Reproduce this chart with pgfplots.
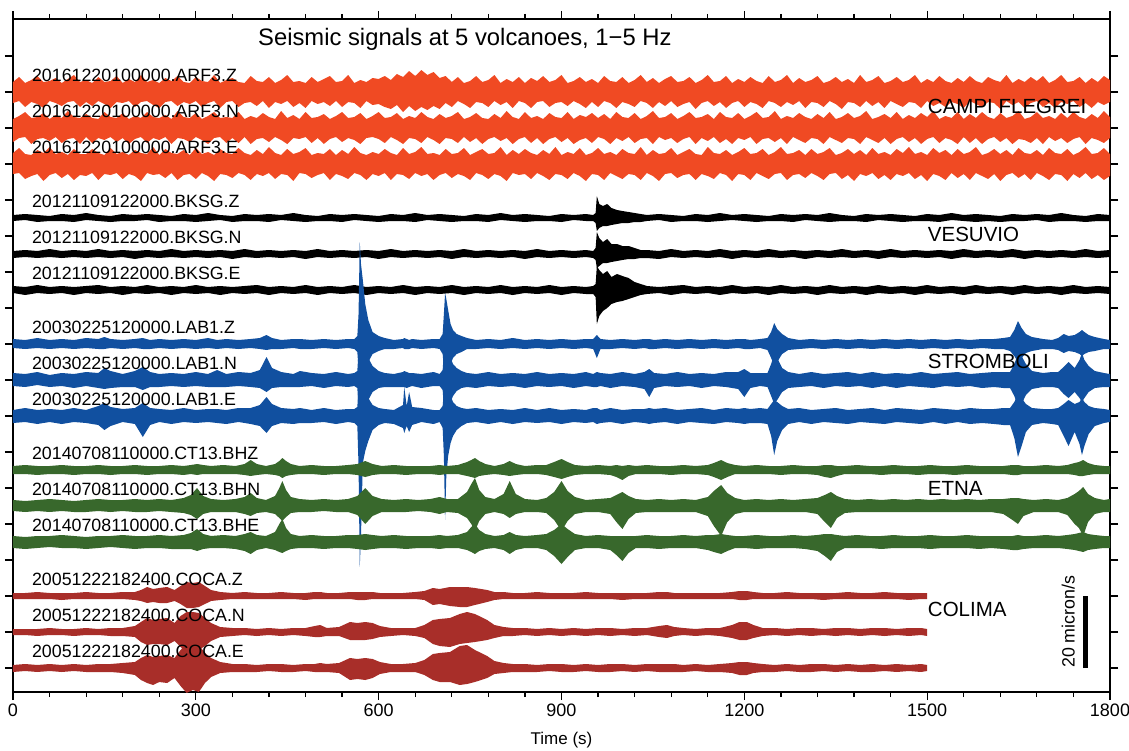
\documentclass[border=0pt]{standalone}
\usepackage{pgfplots}
\pgfplotsset{compat=1.18}
\usepackage{pgfplotstable}
\usepgfplotslibrary{fillbetween}
\usepackage{fontspec}
\setmainfont{Liberation Sans}

\definecolor{cfcol}{RGB}{240,74,35}
\definecolor{stcol}{RGB}{17,80,160}
\definecolor{etcol}{RGB}{56,104,44}
\definecolor{cocol}{RGB}{168,46,41}

% envelopes of the traces, in pixels above (u) and below (l) each baseline
\pgfplotstableread{
t zu zl nu nl eu el
0 10 11 9 14 11 10
10 15 9 12 10 16 9
20 9 15 16 9 10 15
30 12 10 10 16 9 12
40 16 12 11 11 14 10
50 10 16 15 10 11 17
60 11 9 9 13 17 11
70 14 11 13 9 10 9
80 9 14 10 15 12 14
90 13 10 17 11 9 10
100 17 9 11 10 15 16
110 10 15 10 16 10 11
120 12 10 14 9 10 12
130 9 14 10 15 15 9
140 15 9 9 10 11 16
150 10 12 16 12 9 10
160 11 16 11 9 16 11
170 16 10 10 14 10 9
180 9 11 15 10 12 15
190 13 9 9 16 9 10
200 10 15 12 11 14 12
210 17 10 10 9 11 17
220 10 9 16 15 10 9
230 12 13 11 10 17 11
240 9 16 10 12 9 10
250 14 10 13 9 15 14
260 11 9 9 16 11 9
270 16 14 17 10 10 16
280 10 10 11 11 14 11
290 9 12 10 14 9 10
300 15 9 15 9 16 15
310 11 15 9 12 10 9
320 10 11 12 16 12 12
330 17 9 16 10 9 17
340 9 16 10 9 15 10
350 12 10 11 15 11 11
360 14 9 10 10 10 14
370 10 15 16 15 16 9
380 9 11 9 9 11 11
390 16 10 12 16 9 16
400 11 14 10 11 14 10
410 10 9 15 10 10 12
420 15 16 11 14 17 9
430 9 10 9 9 11 15
440 12 12 17 12 9 10
450 17 9 10 16 15 11
460 10 15 13 10 10 17
470 11 11 9 11 12 9
480 9 16 16 9 16 10
490 15 9 10 15 9 14
500 10 12 11 10 11 11
510 13 10 14 16 10 9
520 16 14 9 11 15 16
530 10 9 12 9 9 10
540 11 15 16 14 14 12
550 17 10 10 10 10 15
560 9 11 11 12 17 9
570 12 16 15 16 11 11
580 10 9 9 10 9 16
590 14 13 12 9 12 10
600 13 12 16 11 10 12
610 16 15 10 15 15 9
620 12 17 11 9 11 16
630 18 13 15 12 9 10
640 15 20 9 16 16 11
650 21 14 12 10 10 15
660 16 19 10 11 12 9
670 22 15 16 15 17 12
680 17 18 11 9 10 10
690 20 14 9 12 11 16
700 14 17 14 16 9 11
710 16 11 10 10 15 9
720 10 15 12 11 10 14
730 15 9 16 15 11 10
740 9 12 9 9 16 12
750 11 16 11 14 9 16
760 16 10 15 10 12 9
770 10 11 10 16 15 11
780 12 15 9 11 10 15
790 17 9 14 9 11 10
800 9 13 10 13 17 12
810 13 10 17 10 9 17
820 10 16 11 16 14 9
830 15 9 9 11 10 11
840 9 11 16 9 15 10
850 14 16 10 15 11 15
860 11 10 12 10 9 9
870 16 9 9 16 14 12
880 10 15 15 11 10 16
890 12 11 11 9 17 10
900 17 10 10 14 9 11
910 9 14 16 10 12 15
920 11 9 9 16 10 9
930 15 12 13 12 16 12
940 10 16 11 10 9 17
950 13 10 15 15 11 10
960 9 15 10 9 16 11
970 16 9 14 11 10 16
980 11 11 9 16 12 9
990 10 16 16 10 9 12
1000 15 10 11 13 15 15
1010 9 12 10 9 11 10
1020 12 15 15 15 10 11
1030 17 9 9 11 17 16
1040 10 11 12 10 9 9
1050 14 16 17 16 14 12
1060 9 10 10 9 10 17
1070 13 14 11 12 11 10
1080 16 9 15 10 16 9
1090 10 15 9 15 9 14
1100 11 12 12 11 12 11
1110 15 10 16 9 15 10
1120 9 17 10 16 10 16
1130 12 11 11 10 9 10
1140 17 9 14 13 17 12
1150 10 14 9 9 11 15
1160 11 10 16 15 10 9
1170 16 16 11 11 14 11
1180 9 11 10 16 9 17
1190 13 9 15 10 12 10
1200 10 15 9 12 16 11
1210 15 10 12 9 10 16
1220 11 12 16 16 11 9
1230 9 16 10 11 15 12
1240 16 9 11 10 9 15
1250 10 11 17 14 12 10
1260 12 15 9 10 17 9
1270 17 10 12 16 10 16
1280 9 13 10 9 11 11
1290 14 9 15 12 14 10
1300 10 16 11 15 9 14
1310 12 10 9 10 15 9
1320 16 11 14 11 10 12
1330 9 15 10 16 12 16
1340 11 9 16 9 16 10
1350 15 12 9 12 9 9
1360 10 17 11 15 11 15
1370 13 10 15 10 15 11
1380 9 11 10 11 10 17
1390 17 15 12 16 14 10
1400 10 9 17 9 9 12
1410 12 14 9 12 16 9
1420 16 10 11 15 10 15
1430 9 16 14 10 12 11
1440 11 9 10 16 9 16
1450 15 12 16 11 15 10
1460 10 15 9 9 11 12
1470 12 10 13 14 17 9
1480 17 11 10 10 10 15
1490 9 16 15 16 12 11
1500 13 9 11 11 9 17
1510 10 14 17 9 16 10
1520 16 11 9 15 11 12
1530 11 15 12 10 14 16
1540 9 10 10 12 9 9
1550 14 12 16 16 15 14
1560 10 16 9 9 10 10
1570 16 9 14 15 12 16
1580 11 12 10 10 17 9
1590 9 15 16 16 9 12
1600 15 10 11 11 11 15
1610 12 11 9 9 15 10
1620 10 17 15 14 10 17
1630 17 9 10 10 14 11
1640 9 13 12 16 9 9
1650 13 10 17 11 16 14
1660 10 16 9 12 11 10
1670 15 11 11 15 10 16
1680 11 9 16 10 14 9
1690 16 15 10 16 9 12
1700 9 11 12 9 16 16
1710 12 16 9 13 11 10
1720 17 10 15 10 10 11
1730 10 12 10 15 15 17
1740 11 9 16 11 9 10
1750 15 15 11 9 12 14
1760 9 11 9 16 17 9
1770 14 16 14 10 10 15
1780 10 10 10 12 11 11
1790 16 13 17 15 16 16
1800 12 10 11 10 10 12
}\tabCF

\pgfplotstableread{
t zu zl nu nl eu el
0 3 3 3 4 4 3
20 4 2 4 3 3 5
40 3 4 3 4 5 3
60 2 3 5 3 3 4
80 4 3 3 4 4 3
100 3 4 4 3 3 5
120 5 2 3 4 4 3
140 3 3 5 3 5 4
160 2 4 3 4 3 3
180 4 3 4 3 4 5
200 3 3 3 5 3 3
220 4 2 4 3 5 4
240 3 4 3 4 3 3
260 2 3 5 3 4 5
280 4 3 3 4 3 3
300 3 4 4 3 5 4
320 5 3 3 4 3 3
340 3 2 4 3 4 5
360 2 4 3 5 3 3
380 4 3 5 3 4 4
400 3 3 3 4 5 3
420 4 4 4 3 3 5
440 3 2 3 4 4 3
460 5 3 4 3 3 4
480 3 4 3 5 5 3
500 2 3 5 3 3 5
520 4 3 3 4 4 3
540 3 4 4 3 3 4
560 4 2 3 4 5 3
580 3 3 4 3 3 5
600 2 4 3 5 4 3
620 4 3 5 3 3 4
640 3 3 3 4 5 3
660 5 4 4 3 3 5
680 3 2 3 4 4 3
700 4 3 4 3 3 4
720 3 4 3 5 5 3
740 2 3 5 3 3 5
760 4 3 3 4 4 3
780 3 4 4 3 3 4
800 5 2 3 4 5 3
820 3 3 4 3 3 5
840 4 4 3 5 4 3
860 3 3 5 3 3 4
880 2 3 3 4 5 3
900 4 4 4 3 3 5
920 3 2 3 4 4 3
940 4 3 4 3 3 4
952 3 3 3 4 4 4
956 5 5 6 6 6 7
958 22 13 22 14 24 34
962 14 10 16 12 20 26
968 12 8 12 9 16 21
975 14 8 15 9 19 18
982 10 7 10 8 13 14
991 8 6 10 7 16 12
1000 7 5 8 6 14 11
1010 6 5 8 5 12 9
1020 5 4 6 5 8 7
1030 4 4 4 4 6 5
1040 3 3 4 4 4 4
1060 4 2 3 5 3 3
1080 3 4 5 3 4 5
1100 2 3 3 4 5 3
1120 4 3 4 3 3 4
1140 3 4 3 4 4 3
1160 5 3 5 3 3 5
1180 3 2 3 5 5 3
1200 4 3 4 3 3 4
1220 3 4 3 4 4 3
1240 2 3 5 3 3 5
1260 4 3 3 4 5 3
1280 3 4 4 3 3 4
1300 4 2 3 5 4 3
1320 3 3 4 3 3 5
1340 5 4 3 4 5 3
1360 3 3 5 3 3 4
1380 2 3 3 4 4 3
1400 4 4 4 3 3 5
1420 3 2 3 5 5 3
1440 4 3 5 3 3 4
1460 3 4 3 4 4 3
1480 2 3 4 3 3 5
1500 4 3 3 4 5 3
1520 3 4 4 3 3 4
1540 5 2 3 5 4 3
1560 3 3 5 3 3 5
1580 4 4 3 4 5 3
1600 3 3 4 3 3 4
1620 2 4 3 4 4 3
1640 4 3 5 3 3 5
1660 3 3 3 5 5 3
1680 4 2 4 3 3 4
1700 3 4 3 4 4 3
1720 5 3 4 3 3 5
1740 3 3 3 4 5 3
1760 2 4 5 3 3 4
1780 4 3 3 4 4 3
1800 3 3 4 3 3 4
}\tabVE

\pgfplotstableread{
t zu zl nu nl eu el
0 5 4 7 6 6 7
20 4 5 6 7 8 6
40 6 4 8 5 6 8
60 4 5 5 7 7 6
80 5 4 7 6 6 8
100 4 5 6 8 8 6
120 6 4 8 6 6 7
140 5 5 7 8 10 9
150 7 5 12 9 13 14
160 5 4 9 8 9 10
180 4 5 6 7 7 6
200 5 4 9 7 8 8
213 6 5 13 10 13 21
225 4 5 8 7 8 9
240 5 4 6 7 7 6
260 4 5 7 6 6 8
280 5 4 6 7 8 6
300 4 5 8 6 6 7
320 6 4 6 7 7 6
335 4 5 10 7 7 7
350 5 4 6 7 6 8
370 4 5 8 6 8 6
390 5 4 7 7 8 8
405 6 5 10 8 11 10
416 9 6 23 12 19 17
425 6 5 12 8 12 10
440 4 5 8 7 8 7
460 5 4 6 7 7 8
471 5 5 9 7 8 7
490 4 5 7 6 6 7
510 5 4 6 8 8 6
530 4 5 8 6 6 8
550 5 4 6 7 7 6
560 5 5 7 6 7 7
565 8 8 9 8 9 10
567 30 25 30 30 30 50
569 102 36 36 36 36 151
571 80 36 36 36 36 120
574 64 30 34 34 32 47
578 40 24 30 28 25 35
583 24 18 22 20 18 25
590 12 10 14 12 11 14
600 8 7 9 8 8 9
610 6 5 7 7 7 7
625 4 5 6 7 6 8
640 5 4 8 7 11 12
642 6 5 9 7 29 17
646 5 5 8 8 10 10
650 4 5 7 7 24 16
655 5 4 7 6 9 9
670 4 5 6 8 8 6
690 5 4 8 6 6 8
700 5 5 6 6 6 6
705 10 10 10 10 10 12
707 30 25 28 28 25 40
709 51 34 34 34 34 104
711 45 34 34 34 34 60
714 34 30 30 30 28 40
718 20 20 22 22 20 27
722 14 14 16 16 14 20
728 10 10 12 11 10 14
736 8 8 9 8 8 10
745 6 5 7 7 7 7
760 4 5 6 8 8 6
780 5 4 8 6 6 8
800 4 5 6 7 7 6
820 6 4 7 6 6 8
840 4 5 6 8 8 6
860 5 4 8 6 6 7
880 4 5 6 7 8 6
900 5 4 7 6 6 8
920 4 5 6 8 7 6
940 5 4 8 6 6 7
952 5 5 6 7 8 6
958 9 14 8 7 8 8
964 5 5 7 6 6 7
980 4 5 6 8 8 6
1000 5 4 8 6 6 8
1020 4 5 6 7 7 6
1036 5 4 8 9 7 7
1044 5 5 11 17 8 8
1052 4 5 7 8 7 7
1070 5 4 6 6 8 6
1090 4 5 8 7 6 8
1110 5 4 6 6 7 6
1130 4 5 7 8 8 7
1150 5 4 6 6 6 8
1170 4 5 8 7 8 6
1190 5 4 8 9 7 7
1200 5 5 11 17 8 8
1210 4 5 7 8 7 7
1226 5 4 7 6 8 7
1238 6 6 7 7 7 8
1244 12 14 16 16 12 20
1249 21 22 26 24 16 39
1254 15 18 22 20 14 25
1262 10 10 12 12 10 14
1272 6 6 8 8 7 8
1290 4 5 6 7 8 6
1310 5 4 8 6 6 8
1330 4 5 6 8 7 6
1350 5 4 7 6 8 7
1370 4 5 8 7 6 8
1390 5 4 6 6 7 6
1410 4 5 8 8 8 7
1430 5 4 6 6 6 8
1450 4 5 7 8 8 6
1470 5 4 6 6 7 7
1490 4 5 8 7 6 8
1510 5 4 6 8 8 6
1530 4 5 7 6 7 8
1550 5 4 8 7 6 6
1570 4 5 6 6 8 8
1590 5 4 7 8 7 7
1610 5 5 8 7 7 8
1625 6 5 8 8 8 9
1636 7 7 8 8 8 9
1643 14 12 16 16 14 22
1649 23 18 26 26 22 41
1655 16 14 24 24 18 30
1662 10 9 16 15 12 16
1672 7 7 9 9 8 9
1690 5 5 7 7 7 7
1705 4 5 8 7 7 8
1715 6 6 8 8 8 9
1724 10 9 13 14 12 20
1732 8 7 18 18 16 30
1742 9 8 12 12 12 16
1750 12 10 20 18 14 28
1754 14 12 27 22 18 39
1758 12 10 20 18 14 30
1765 9 8 14 12 10 18
1775 7 7 9 8 8 10
1790 5 5 7 7 7 7
1800 4 5 6 7 6 6
}\tabST

\pgfplotstableread{
t zu zl nu nl eu el
0 4 4 6 5 6 6
20 5 4 5 6 5 7
40 4 5 6 5 6 6
60 4 4 7 6 6 5
80 5 4 6 5 7 6
100 4 5 5 6 6 6
120 4 4 6 6 5 7
140 5 4 7 5 6 6
160 4 5 6 6 6 5
180 4 4 6 5 7 6
200 5 4 7 6 6 7
220 4 5 6 6 6 6
240 4 4 7 5 7 6
260 5 4 6 6 6 7
280 4 5 8 7 7 7
292 5 4 11 9 9 7
302 6 5 18 13 13 9
312 5 4 10 8 8 7
325 4 4 7 6 6 6
345 5 4 6 6 7 6
365 4 4 7 6 6 7
380 6 5 9 8 8 9
390 10 6 13 10 10 12
400 6 5 8 7 7 8
415 4 4 6 6 6 6
430 6 5 10 8 10 8
437 9 6 18 12 18 10
442 12 8 25 15 23 11
448 9 6 16 11 14 9
456 6 5 9 7 8 7
470 4 4 7 6 6 6
490 5 4 6 6 7 6
510 4 5 7 5 6 7
530 4 4 6 6 6 6
550 5 4 7 6 7 6
565 6 5 10 9 7 7
578 9 7 18 18 8 8
590 6 5 10 10 7 7
605 4 4 7 6 6 6
625 5 4 6 6 7 6
645 4 5 7 6 6 7
665 4 4 6 5 6 6
685 4 4 7 6 6 6
700 5 5 9 8 7 7
712 4 4 7 6 6 6
730 5 4 7 7 7 6
745 8 6 14 12 10 8
752 10 7 22 18 15 10
758 12 8 28 25 18 12
765 9 6 16 15 12 9
775 6 5 9 8 8 7
790 4 4 7 6 6 6
805 6 5 12 8 7 8
815 9 6 25 12 10 12
825 6 5 12 8 7 8
840 4 4 7 6 6 6
860 5 4 6 6 7 6
875 5 5 8 7 8 8
888 8 7 14 14 12 14
900 11 9 25 25 18 22
910 8 7 15 15 13 15
922 5 5 9 8 8 8
940 4 4 6 6 6 6
960 5 4 7 6 7 6
980 4 5 8 8 6 8
990 5 7 11 16 6 13
1000 4 10 14 23 6 19
1010 5 6 10 13 6 11
1022 4 4 7 7 6 6
1040 5 4 6 6 7 6
1060 4 4 7 6 6 7
1080 4 5 6 6 6 6
1100 5 4 7 6 7 6
1120 4 4 6 6 6 6
1140 5 5 9 10 7 8
1150 7 7 15 20 7 10
1162 10 10 21 30 8 12
1172 7 7 13 16 7 9
1185 5 4 8 8 6 6
1200 4 4 6 6 6 6
1220 5 4 7 6 7 7
1240 4 4 6 6 6 6
1260 4 5 7 6 6 6
1280 5 4 6 6 7 6
1300 4 4 7 6 6 7
1320 4 5 8 8 7 9
1332 5 7 11 16 8 14
1342 5 8 14 22 8 19
1352 4 6 10 12 7 10
1365 4 4 7 7 6 6
1385 5 4 6 6 7 6
1405 4 4 7 6 6 6
1425 4 5 6 6 6 7
1445 5 4 7 6 7 6
1465 4 4 6 6 6 6
1485 4 5 7 6 6 6
1505 5 4 6 6 7 7
1525 4 4 7 6 6 6
1545 4 5 6 6 6 6
1565 5 4 7 6 7 6
1585 4 4 6 6 6 7
1605 4 4 7 6 6 6
1625 4 4 7 8 6 7
1640 5 5 8 14 6 8
1649 5 5 8 18 7 8
1658 4 4 7 10 6 7
1675 4 4 6 6 6 6
1695 5 4 7 6 7 6
1715 4 4 6 6 6 6
1730 5 4 8 9 7 7
1742 7 5 12 18 8 8
1749 8 6 15 22 9 9
1756 10 6 19 30 10 10
1764 7 5 12 16 8 8
1775 5 4 8 8 7 7
1790 4 4 6 6 6 6
1800 4 4 7 6 6 6
}\tabET

\pgfplotstableread{
t zu zl nu nl eu el
0 3 3 3 3 3 4
20 3 3 3 3 4 3
40 4 3 3 4 3 4
60 3 3 4 3 4 3
80 3 4 3 3 3 4
100 3 3 3 4 4 3
120 4 3 4 3 3 4
140 3 3 3 3 4 4
160 3 3 4 4 4 4
180 4 3 4 4 5 5
200 4 4 6 5 6 7
210 6 5 10 10 10 12
220 9 7 14 13 13 15
230 7 6 12 12 11 17
240 8 7 13 12 12 14
253 9 7 14 13 13 15
265 6 5 9 9 10 10
275 10 8 16 15 18 18
285 14 12 20 20 25 25
295 13 12 20 18 22 22
305 14 11 19 18 23 24
315 10 8 14 14 15 15
325 6 5 9 9 10 9
340 4 4 5 5 6 5
360 3 3 4 4 4 4
380 4 3 4 3 4 4
400 3 3 3 4 3 4
420 3 3 4 3 4 3
440 4 3 3 4 4 4
460 3 3 4 3 3 4
480 3 4 4 4 4 3
495 4 3 6 5 4 4
504 4 3 7 5 5 4
515 3 3 4 4 4 4
535 3 3 5 4 5 5
553 4 3 10 8 10 12
565 4 4 9 8 9 11
578 4 4 10 8 10 12
590 4 3 9 7 9 10
602 3 3 6 5 6 6
620 3 3 4 4 4 4
640 3 3 4 3 4 4
660 4 3 4 4 5 4
675 5 4 7 6 8 7
689 8 9 12 12 14 12
700 7 8 13 14 15 14
717 9 10 14 15 16 14
733 9 11 18 12 22 17
745 9 11 20 11 23 16
758 8 9 18 10 18 14
778 6 6 12 8 12 10
790 4 4 7 6 7 6
805 4 3 5 4 5 5
820 3 3 4 4 4 4
840 3 3 4 3 4 4
860 4 3 3 4 3 4
880 3 3 4 3 4 3
900 3 3 3 4 4 4
920 3 3 4 3 3 4
940 4 3 3 4 4 3
960 3 3 4 3 3 4
980 3 3 4 4 4 4
1000 3 4 3 3 4 3
1020 3 3 4 4 3 4
1040 3 3 4 3 4 3
1060 4 3 6 5 4 4
1073 4 3 7 6 4 4
1085 3 3 5 4 4 4
1100 3 3 4 3 3 4
1120 3 3 3 4 4 3
1140 3 3 4 3 3 4
1160 3 3 4 4 4 4
1180 4 3 7 6 5 5
1192 5 4 10 8 6 7
1204 5 4 10 8 6 7
1215 4 3 7 6 5 5
1230 3 3 4 4 4 4
1250 3 3 4 3 3 4
1270 4 3 3 4 4 3
1290 3 3 4 3 3 4
1310 3 3 4 4 4 4
1330 3 4 3 3 4 3
1350 3 3 4 4 3 4
1370 4 3 4 3 4 3
1390 3 3 3 4 3 4
1410 3 3 4 3 4 4
1430 4 3 4 4 3 3
1450 3 3 3 3 4 4
1470 3 4 4 4 3 3
1490 3 3 4 3 4 4
1500 3 3 3 4 3 3
}\tabCO

% one trace: table, baseline, upper column, lower column, colour, name
\newcommand{\trace}[6]{%
  \addplot[draw=none, name path=u#6] table[x=t, y expr={#2+\thisrow{#3}/36}] {#1};
  \addplot[draw=none, name path=l#6] table[x=t, y expr={#2-\thisrow{#4}/36}] {#1};
  \addplot[fill=#5, draw=none] fill between[of=u#6 and l#6];
}

\newcommand{\lbl}{\fontsize{17.8}{20}\selectfont}
\newcommand{\grp}{\fontsize{20.5}{23}\selectfont}

\begin{document}
\begin{tikzpicture}
\begin{axis}[
  at={(0pt,0pt)}, anchor=south west,
  set layers,
  scale only axis, width=1097pt, height=673pt,
  xmin=0, xmax=1800, ymin=-0.6667, ymax=18.028,
  xtick={0,300,...,1800}, minor x tick num=4,
  ytick={0,...,17}, yticklabels={},
  tick align=outside, tick pos=both, xticklabel pos=lower,
  major tick length=8pt, minor tick length=5pt,
  axis line style={line width=2.2pt},
  every tick/.style={black, line width=1.2pt},
  ticklabel style={font=\fontsize{18}{20}\selectfont},
  /pgf/number format/assume math mode=true,
  /pgf/number format/1000 sep={},
  xlabel={Time (s)},
  xlabel style={font=\fontsize{17}{20}\selectfont, yshift=-9pt},
]
\trace{\tabCF}{16}{zu}{zl}{cfcol}{a}
\trace{\tabCF}{15}{nu}{nl}{cfcol}{b}
\trace{\tabCF}{14}{eu}{el}{cfcol}{c}
\trace{\tabVE}{12.5}{zu}{zl}{black}{d}
\trace{\tabVE}{11.5}{nu}{nl}{black}{e}
\trace{\tabVE}{10.5}{eu}{el}{black}{f}
\trace{\tabST}{9}{zu}{zl}{stcol}{g}
\trace{\tabST}{8}{nu}{nl}{stcol}{h}
\trace{\tabST}{7}{eu}{el}{stcol}{i}
\trace{\tabET}{5.5}{zu}{zl}{etcol}{j}
\trace{\tabET}{4.5}{nu}{nl}{etcol}{k}
\trace{\tabET}{3.5}{eu}{el}{etcol}{m}
\trace{\tabCO}{2}{zu}{zl}{cocol}{n}
\trace{\tabCO}{1}{nu}{nl}{cocol}{o}
\trace{\tabCO}{0}{eu}{el}{cocol}{p}

% station and volcano names
\begin{scope}[every node/.style={inner sep=0pt, anchor=base west}]
\node[font=\lbl] at (axis cs:31,16.28) {20161220100000.ARF3.Z};
\node[font=\lbl] at (axis cs:31,15.28) {20161220100000.ARF3.N};
\node[font=\lbl] at (axis cs:31,14.28) {20161220100000.ARF3.E};
\node[font=\lbl] at (axis cs:31,12.78) {20121109122000.BKSG.Z};
\node[font=\lbl] at (axis cs:31,11.78) {20121109122000.BKSG.N};
\node[font=\lbl] at (axis cs:31,10.78) {20121109122000.BKSG.E};
\node[font=\lbl] at (axis cs:31,9.3) {20030225120000.LAB1.Z};
\node[font=\lbl] at (axis cs:31,8.3) {20030225120000.LAB1.N};
\node[font=\lbl] at (axis cs:31,7.3) {20030225120000.LAB1.E};
\node[font=\lbl] at (axis cs:31,5.78) {20140708110000.CT13.BHZ};
\node[font=\lbl] at (axis cs:31,4.78) {20140708110000.CT13.BHN};
\node[font=\lbl] at (axis cs:31,3.78) {20140708110000.CT13.BHE};
\node[font=\lbl] at (axis cs:31,2.28) {20051222182400.COCA.Z};
\node[font=\lbl] at (axis cs:31,1.28) {20051222182400.COCA.N};
\node[font=\lbl] at (axis cs:31,0.28) {20051222182400.COCA.E};
\node[font=\grp] at (axis cs:1501,15.39) {CAMPI FLEGREI};
\node[font=\grp] at (axis cs:1501,11.86) {VESUVIO};
\node[font=\grp] at (axis cs:1501,8.31) {STROMBOLI};
\node[font=\grp] at (axis cs:1501,4.78) {ETNA};
\node[font=\grp] at (axis cs:1501,1.42) {COLIMA};
\node[font=\fontsize{23.8}{26}\selectfont] at (axis cs:402,17.3) {Seismic signals at 5 volcanoes, 1−5 Hz};
\node[rotate=90, font=\lbl] at (axis cs:1742,0) {20 micron/s};
\end{scope}

% scale bar, 20 micron/s over two trace spacings
\addplot[black, line width=5pt] coordinates {(1760,0) (1760,2)};
\end{axis}
\pgfresetboundingbox
\useasboundingbox (-13pt,-58pt) rectangle (1116pt,692pt);
\end{tikzpicture}
\end{document}
